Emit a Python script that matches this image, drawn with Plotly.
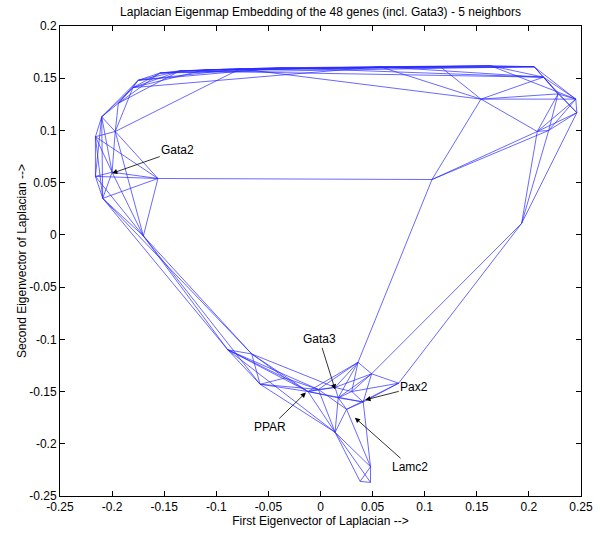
import plotly.graph_objects as go

# Node coordinates (first / second Laplacian eigenvector)
node_names = ["L1","L2","L3","L4","L5","L6","L7","L8","L9","L10","L11","L12",
              "T1","T2","T3","T4","T5","T6","T7","T8",
              "R1","R1b","R2","R3","R4","R5","R6","R7","R8","R9",
              "b1","b2","b3","b4","b5","b6","b7","b8","b9","b10","b11","b12",
              "b13","b14","b15","b16","b17","b18"]
node_x = [-0.216,-0.216,-0.156,-0.209,-0.197,-0.210,-0.200,-0.170,-0.180,-0.175,-0.154,-0.194,
          -0.135,-0.111,-0.077,-0.039,0.009,0.057,0.115,0.163,
          0.205,0.214,0.245,0.228,0.154,0.246,0.208,0.219,0.107,0.193,
          -0.089,-0.066,-0.058,-0.012,0.036,0.049,0.075,0.025,0.014,0.017,0.041,0.038,
          0.048,0.048,0.014,-0.002,-0.034,0.030]
node_y = [0.094,0.056,0.054,0.035,0.099,0.113,0.060,-0.001,0.141,0.148,0.155,0.126,
          0.157,0.158,0.159,0.160,0.160,0.161,0.161,0.162,
          0.161,0.151,0.130,0.135,0.130,0.117,0.099,0.100,0.053,0.011,
          -0.110,-0.114,-0.143,-0.150,-0.122,-0.133,-0.142,-0.167,-0.189,-0.156,-0.160,-0.236,
          -0.237,-0.222,-0.146,-0.148,-0.137,-0.150]

# Neighbour graph edges
edges = [
    ("L1","L2"),("L1","L5"),("L1","L6"),("L1","L3"),("L1","L4"),("L1","L7"),
    ("L2","L3"),("L2","L4"),("L2","L7"),("L2","L8"),("L2","L6"),
    ("L3","L4"),("L3","L5"),("L3","L8"),("L3","L7"),("L3","R8"),
    ("L4","L8"),("L4","L7"),("L4","b1"),("L4","b2"),
    ("L5","L6"),("L5","L7"),("L5","L8"),("L5","L12"),("L5","T3"),("L5","L9"),
    ("L6","L12"),("L6","L9"),("L6","L10"),("L6","L7"),("L6","L4"),
    ("L7","L8"),
    ("L8","b1"),("L8","b2"),("L8","b3"),
    ("L9","L10"),("L9","L11"),("L9","L12"),("L9","T1"),("L9","T2"),("L9","T6"),
    ("L10","L11"),("L10","L12"),("L10","T1"),("L10","T4"),("L10","T3"),
    ("L11","T1"),("L11","T2"),("L11","R1"),("L11","T5"),
    ("L12","T1"),("L12","L11"),
    ("T1","T2"),("T1","T3"),("T1","R1b"),("T1","T7"),
    ("T2","T3"),("T2","T4"),("T2","R1"),("T2","T8"),
    ("T3","T4"),("T3","T5"),("T3","R4"),
    ("T4","T5"),("T4","T6"),("T4","R1b"),
    ("T5","T6"),("T5","T7"),("T5","R1"),
    ("T6","T7"),("T6","T8"),("T6","R1b"),("T6","R4"),
    ("T7","T8"),("T7","R1"),("T7","R4"),
    ("T8","R1"),("T8","R1b"),("T8","R2"),
    ("R1","R1b"),("R1","R2"),("R1","R3"),
    ("R1b","R2"),("R1b","R3"),("R1b","R5"),("R1b","R4"),
    ("R2","R3"),("R2","R4"),("R2","R5"),("R2","R6"),("R2","R7"),
    ("R3","R4"),("R3","R6"),("R3","R7"),("R3","R5"),
    ("R4","R6"),("R4","R8"),
    ("R5","R7"),("R5","R9"),("R5","R6"),
    ("R6","R7"),("R6","R8"),("R6","R9"),
    ("R7","R8"),("R7","R9"),
    ("R8","b5"),
    ("R9","b6"),("R9","b7"),
    ("b1","b2"),("b1","b3"),("b1","b4"),("b1","b17"),("b1","b9"),("b1","b16"),
    ("b2","b3"),("b2","b4"),("b2","b17"),("b2","b15"),
    ("b3","b4"),("b3","b17"),("b3","b9"),("b3","b16"),
    ("b4","b15"),("b4","b10"),("b4","b9"),("b4","b11"),("b4","b5"),("b4","b16"),("b4","b17"),
    ("b5","b6"),("b5","b15"),("b5","b10"),("b5","b18"),("b5","b16"),
    ("b6","b7"),("b6","b11"),("b6","b15"),("b6","b10"),("b6","b18"),
    ("b7","b11"),("b7","b8"),("b7","b18"),
    ("b8","b11"),("b8","b10"),("b8","b9"),("b8","b14"),("b8","b16"),
    ("b9","b12"),("b9","b13"),("b9","b14"),("b9","b10"),("b9","b16"),
    ("b10","b15"),("b10","b18"),("b10","b11"),
    ("b11","b14"),("b11","b18"),
    ("b12","b13"),("b12","b14"),("b13","b14"),
    ("b15","b16"),("b15","b18"),("b16","b17"),
]

# Labelled genes: (text, arrow tip x, y, text x, y)
labels = ["Gata2", "Gata3", "PPAR", "Pax2", "Lamc2"]
tip_x = [-0.200, 0.014, -0.014, 0.043, 0.033]
tip_y = [0.059, -0.148, -0.151, -0.158, -0.175]
txt_x = [-0.137, -0.001, -0.048, 0.090, 0.086]
txt_y = [0.081, -0.100, -0.184, -0.146, -0.222]

tick_vals = [-0.25,-0.2,-0.15,-0.1,-0.05,0,0.05,0.1,0.15,0.2,0.25]
tick_text = ["-0.25","-0.2","-0.15","-0.1","-0.05","0","0.05","0.1","0.15","0.2","0.25"]

idx = {n: i for i, n in enumerate(node_names)}
xs, ys = [], []
for a, b in edges:
    xs += [node_x[idx[a]], node_x[idx[b]], None]
    ys += [node_y[idx[a]], node_y[idx[b]], None]

FONT = "Liberation Sans, Arial, sans-serif"

fig = go.Figure()
fig.add_trace(go.Scatter(x=xs, y=ys, mode="lines",
                         line=dict(color="rgb(40,40,255)", width=0.7),
                         hoverinfo="skip", showlegend=False))

for t, x0, y0, x1, y1 in zip(labels, tip_x, tip_y, txt_x, txt_y):
    fig.add_annotation(x=x0, y=y0, ax=x1, ay=y1, xref="x", yref="y",
                       axref="x", ayref="y", text=t, showarrow=True,
                       arrowhead=2, arrowsize=1.3, arrowwidth=0.8,
                       arrowcolor="black", standoff=0,
                       font=dict(family=FONT, size=12, color="black"))

axis_common = dict(showline=True, linecolor="black", linewidth=1, mirror="ticks",
                   ticks="inside", ticklen=5, tickcolor="black",
                   showgrid=False, zeroline=False, automargin=False,
                   tickfont=dict(family=FONT, size=12, color="black"))

fig.update_xaxes(range=[-0.25, 0.25], tickvals=tick_vals, ticktext=tick_text,
                 title=dict(text="First Eigenvector of Laplacian -->",
                            font=dict(family=FONT, size=12, color="black"),
                            standoff=2),
                 **axis_common)
fig.update_yaxes(range=[-0.25, 0.2], tickvals=tick_vals[:-1], ticktext=tick_text[:-1],
                 title=dict(text="Second Eigenvector of Laplacian -->",
                            font=dict(family=FONT, size=12, color="black"),
                            standoff=0),
                 **axis_common)

fig.update_layout(
    width=600, height=534,
    margin=dict(l=60, r=19, t=26, b=38),
    paper_bgcolor="white", plot_bgcolor="white",
    hovermode=False,
    title=dict(text="Laplacian Eigenmap Embedding of the 48 genes (incl. Gata3) - 5 neighbors",
               xref="paper", x=0.5, xanchor="center",
               yref="container", y=0.977, yanchor="middle",
               font=dict(family=FONT, size=12, color="black")),
)

fig.write_html("out.html", config={"displayModeBar": False, "staticPlot": True},
               post_script="document.body.style.margin='0px';document.body.style.overflow='hidden';")
